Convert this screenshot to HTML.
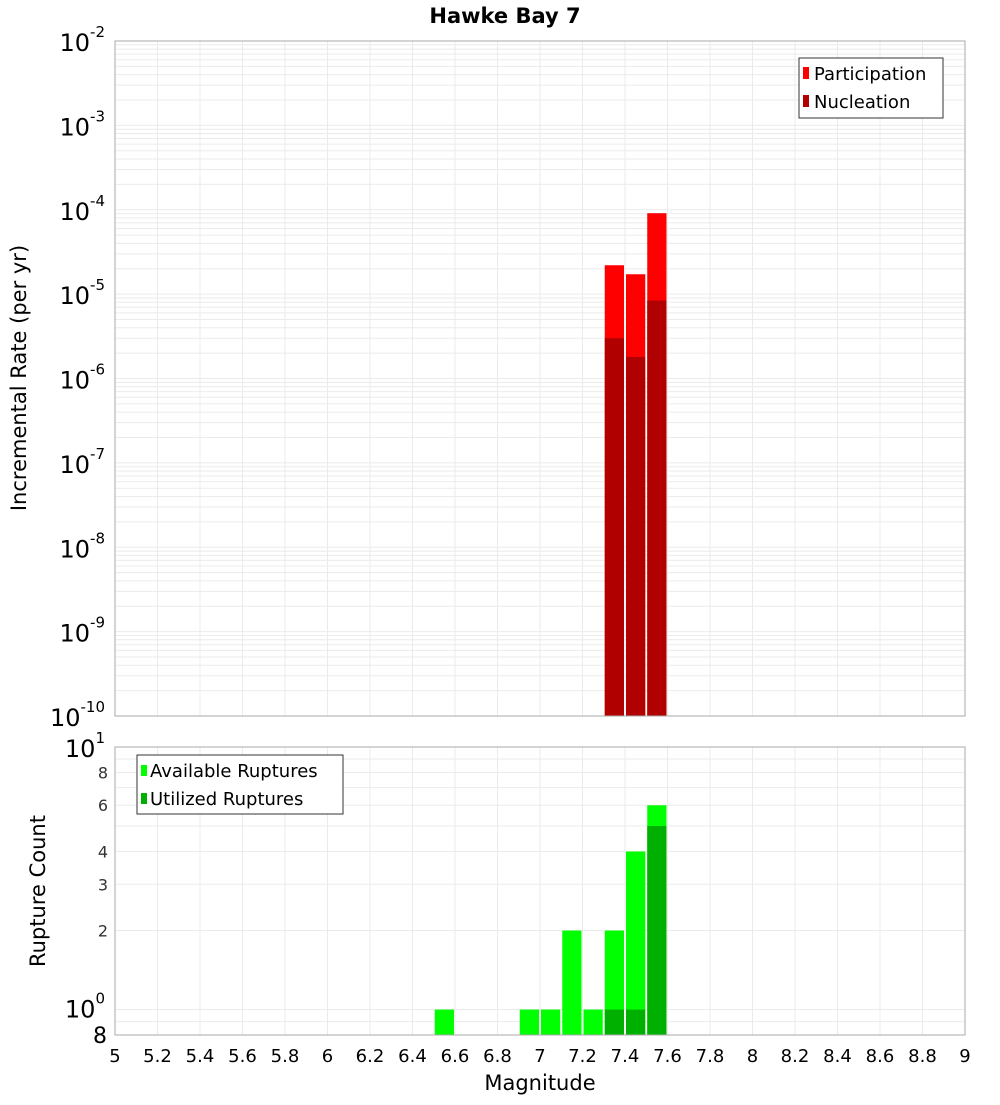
<!DOCTYPE html>
<html><head><meta charset="utf-8"><style>
body{margin:0;background:#fff;width:1000px;height:1100px;overflow:hidden}
svg{font-family:"DejaVu Sans","Liberation Sans",sans-serif}
</style></head><body>
<svg id="c" width="1000" height="1100" xmlns="http://www.w3.org/2000/svg">
<text x="505" y="23" text-anchor="middle" font-size="21" font-weight="bold">Hawke Bay 7</text>
<g id="topPlot"></g>
<g id="botPlot"></g>
</svg>
<script>
const bins = [6.55, 6.95, 7.05, 7.15, 7.25, 7.35, 7.45, 7.55];
const rateBins = [7.35, 7.45, 7.55];
const participation = [2.2e-5, 1.72e-5, 9.1e-5];
const nucleation = [3.0e-6, 1.8e-6, 8.4e-6];
const available = [1, 1, 1, 2, 1, 2, 4, 6];
const utilized = [0, 0, 0, 0, 0, 1, 1, 5];
const xTicks = ["5","5.2","5.4","5.6","5.8","6","6.2","6.4","6.6","6.8","7","7.2","7.4","7.6","7.8","8","8.2","8.4","8.6","8.8","9"];
const topExps = [-2,-3,-4,-5,-6,-7,-8,-9,-10];
const botTicks = ["8","2","3","4","6","8"];

const NS="http://www.w3.org/2000/svg";
const L=115,R=965,T1=41,B1=716,T2=747,B2=1035;
const xs=m=>L+(m-5)/4*(R-L);
const y1=v=>T1+(-2-Math.log10(v))/8*(B1-T1);
const lo2=Math.log10(0.8),hi2=1;
const y2=v=>B2-(Math.log10(v)-lo2)/(hi2-lo2)*(B2-T2);
function mk(p,tag,a,txt){const e=document.createElementNS(NS,tag);for(const k in a)e.setAttribute(k,a[k]);if(txt!==undefined)e.textContent=txt;p.appendChild(e);return e;}
const gTop=document.getElementById('topPlot'),gBot=document.getElementById('botPlot');

for(let e=-10;e<-2;e++)for(let k=1;k<10;k++){const y=y1(k*Math.pow(10,e));
 const g=mk(gTop,'line',{x1:L,x2:R,y1:y,y2:y,stroke:'#ebebeb','stroke-width':1});
 
 }
xTicks.forEach(t=>{const x=xs(+t);for(const [p,a,b] of [[gTop,T1,B1],[gBot,T2,B2]]){
 const g=mk(p,'line',{x1:x,x2:x,y1:a,y2:b,stroke:'#ebebeb','stroke-width':1});
 
 }});
for(let v=1;v<=10;v++){const y=y2(v);
 const g=mk(gBot,'line',{x1:L,x2:R,y1:y,y2:y,stroke:'#ebebeb','stroke-width':1});
 
 }
{const y=y2(0.9);const g=mk(gBot,'line',{x1:L,x2:R,y1:y,y2:y,stroke:'#ebebeb'});
 
 }

const bw=(R-L)/40;
rateBins.forEach((m,i)=>{const x=xs(m)-bw/2+1;
 const a=mk(gTop,'rect',{x:x,y:y1(participation[i]),width:bw-2,height:B1-y1(participation[i]),fill:'#ff0000'});
 
 
 const b=mk(gTop,'rect',{x:x,y:y1(nucleation[i]),width:bw-2,height:B1-y1(nucleation[i]),fill:'#b00000'});
 
 });
bins.forEach((m,i)=>{const x=xs(m)-bw/2+1;
 const a=mk(gBot,'rect',{x:x,y:y2(available[i]),width:bw-2,height:B2-y2(available[i]),fill:'#00ff00'});
 
 
 if(utilized[i]>0){const b=mk(gBot,'rect',{x:x,y:y2(utilized[i]),width:bw-2,height:B2-y2(utilized[i]),fill:'#00b000'});
 
 }});

mk(gTop,'rect',{x:L,y:T1,width:R-L,height:B1-T1,fill:'none',stroke:'#aaa'});
mk(gBot,'rect',{x:L,y:T2,width:R-L,height:B2-T2,fill:'none',stroke:'#aaa'});

topExps.forEach(e=>{const y=y1(Math.pow(10,e));
 const t=mk(gTop,'text',{x:105,y:y+10,'text-anchor':'end','font-size':24});
 
 
 mk(t,'tspan',{},'10');mk(t,'tspan',{dy:-14,'font-size':15},String(e));});
{const t=mk(gBot,'text',{x:105,y:y2(10)+10,'text-anchor':'end','font-size':24});
 
 
 mk(t,'tspan',{},'10');mk(t,'tspan',{dy:-14,'font-size':15},'1');}
{const t=mk(gBot,'text',{x:105,y:y2(1)+8,'text-anchor':'end','font-size':24});
 
 
 mk(t,'tspan',{},'10');mk(t,'tspan',{dy:-14,'font-size':15},'0');}
{const t=mk(gBot,'text',{x:107,y:B2+8,'text-anchor':'end','font-size':22},botTicks[0]);
 
 }
botTicks.slice(1).forEach(s=>{const t=mk(gBot,'text',{x:108,y:y2(+s)+6,'text-anchor':'end','font-size':16,fill:'#333'},s);
 
 });
xTicks.forEach(s=>{const t=mk(gBot,'text',{x:xs(+s),y:1062,'text-anchor':'middle','font-size':18},s);
 
 });
</script>
<svg style="position:absolute;left:0;top:0" width="1000" height="1100" xmlns="http://www.w3.org/2000/svg">
<text x="540" y="1090" text-anchor="middle" font-size="21">Magnitude</text>
<text transform="translate(26,378) rotate(-90)" text-anchor="middle" font-size="21">Incremental Rate (per yr)</text>
<text transform="translate(45,891) rotate(-90)" text-anchor="middle" font-size="21">Rupture Count</text>
<g>
<rect x="799" y="58" width="144" height="60" fill="#fff" stroke="#333"/>
<rect x="803" y="67" width="6" height="12" fill="#ff0000"/>
<text x="814" y="80" font-size="18">Participation</text>
<rect x="803" y="95" width="6" height="12" fill="#b00000"/>
<text x="814" y="108" font-size="18">Nucleation</text>
</g>
<g>
<rect x="137" y="755" width="206" height="59" fill="#fff" stroke="#333"/>
<rect x="141" y="765" width="6" height="11" fill="#00ff00"/>
<text x="150" y="777" font-size="18">Available Ruptures</text>
<rect x="141" y="793" width="6" height="11" fill="#00b000"/>
<text x="150" y="805" font-size="18">Utilized Ruptures</text>
</g>
</svg>
</body></html>
